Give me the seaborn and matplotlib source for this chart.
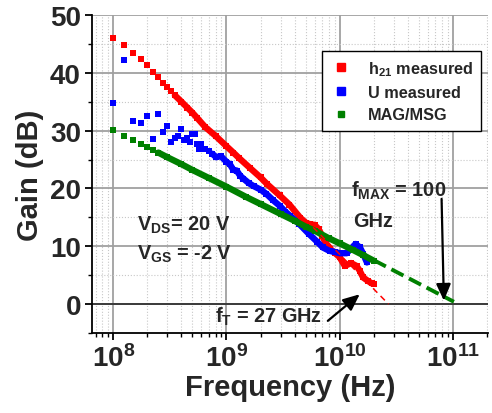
# Gain vs frequency: h21, U and MAG/MSG with extrapolations to fT and fMAX

import numpy as np
import matplotlib
matplotlib.use('Agg')
import matplotlib.pyplot as plt
import seaborn as sns
from matplotlib.ticker import FixedLocator, LogLocator, MultipleLocator, NullFormatter
from matplotlib.lines import Line2D

# h21 measured (GHz, dB)
h21_freq_ghz = [0.100, 0.125, 0.150, 0.175, 0.200, 0.225, 0.250, 0.275, 0.300, 0.325,
                0.350, 0.40, 0.45, 0.50, 0.55, 0.65, 0.80, 1.0, 1.15, 1.3,
                1.6, 2.0, 2.3, 2.95, 3.6, 4.5, 5.0, 5.5, 6.0, 6.5,
                7.0, 7.5, 8.2, 9.0, 10.0, 11.1, 12.6, 14.1, 15.0, 16.1,
                17.8, 19.1, 20.0]
h21_gain_db = [46.1, 44.8, 43.5, 42.4, 41.3, 40.2, 39.2, 38.3, 37.5, 36.8,
               36.1, 35.0, 34.0, 33.1, 32.2, 30.6, 29.1, 27.3, 26.2, 25.2,
               23.6, 21.9, 20.7, 18.8, 17.2, 14.9, 14.1, 13.8, 13.7, 13.0,
               11.8, 10.6, 9.6, 8.9, 8.1, 6.6, 7.1, 6.6, 5.8, 4.6,
               4.0, 3.6, 3.5]

# U measured (GHz, dB)
u_freq_ghz = [0.100, 0.125, 0.150, 0.175, 0.200, 0.225, 0.250, 0.275, 0.300, 0.325,
              0.350, 0.375, 0.400, 0.425, 0.450, 0.475, 0.500, 0.525, 0.550, 0.575,
              0.600, 0.650, 0.700, 0.750, 0.81, 0.89, 1.0, 1.07, 1.15, 1.23,
              1.32, 1.41, 1.58, 1.74, 2.0, 2.24, 2.57, 2.95, 3.31, 3.63,
              4.37, 5.37, 6.31, 7.08, 8.13, 9.12, 10.0, 11.5, 12.6, 13.8,
              15.1, 16.2, 17.4]
u_gain_db = [34.7, 42.2, 31.6, 31.3, 32.5, 28.6, 32.8, 29.8, 30.8, 28.1,
             28.7, 29.1, 30.2, 28.3, 28.8, 28.0, 29.4, 29.5, 27.7, 26.8,
             27.7, 26.8, 26.5, 26.0, 25.4, 25.6, 24.6, 24.2, 23.2, 23.1,
             22.2, 21.7, 20.9, 20.4, 19.8, 19.1, 18.0, 17.0, 16.0, 15.3,
             13.9, 12.1, 10.8, 9.8, 9.2, 9.0, 8.8, 8.8, 9.6, 10.4,
             9.8, 8.6, 7.2]

# MAG/MSG (GHz, dB)
mag_freq_ghz = [0.100, 0.125, 0.150, 0.175, 0.200, 0.225, 0.25, 0.30, 0.40, 0.50,
                0.70, 1.0, 1.5, 2.0, 3.0, 4.0, 5.0, 6.0, 8.0, 10.0,
                13.0, 16.0, 20.0]
mag_gain_db = [30.1, 29.1, 28.4, 27.7, 27.2, 26.7, 26.2, 25.4, 24.2, 23.2,
               21.8, 20.3, 18.5, 17.3, 15.6, 14.4, 13.4, 12.7, 11.4, 10.5,
               9.4, 8.5, 7.5]

# extrapolation lines
h21_fit_freq_ghz = [5.0, 27.0]
h21_fit_gain_db = [14.6, 0.0]
mag_fit_freq_ghz = [20.0, 102.0]
mag_fit_gain_db = [7.6, 0.4]

sns.set_style('ticks')
plt.rcParams['font.family'] = ['Liberation Sans', 'DejaVu Sans']
plt.rcParams['font.weight'] = 'bold'
plt.rcParams['mathtext.fontset'] = 'custom'
for k in ('rm', 'it', 'bf', 'sf'):
    plt.rcParams['mathtext.' + k] = 'Liberation Sans:bold'
plt.rcParams['mathtext.default'] = 'bf'

fig = plt.figure(figsize=(4.92, 4.14), dpi=100)
ax = fig.add_axes([92 / 492, 80 / 414, 396 / 492, 318 / 414])
ax.set_xscale('log')


def draw(freq, gain, band_from, color, z):
    f = np.asarray(freq) * 1e9
    g = np.asarray(gain)
    sns.scatterplot(x=f, y=g, marker='s', s=14, color=color, linewidth=0, ax=ax, zorder=z)
    m = f >= band_from * 1e9
    ax.plot(f[m], g[m], color=color, lw=4.6, zorder=z, solid_joinstyle='round')


draw(h21_freq_ghz, h21_gain_db, 0.35, '#ff0000', 3)
draw(u_freq_ghz, u_gain_db, 0.75, '#0000ff', 4)
draw(mag_freq_ghz, mag_gain_db, 0.25, '#008000', 5)

ax.plot(np.array(h21_fit_freq_ghz) * 1e9, h21_fit_gain_db, color='#ff0000',
        lw=1.1, dashes=(4, 3), zorder=6)
ax.plot(np.array(mag_fit_freq_ghz) * 1e9, mag_fit_gain_db, color='#008000',
        lw=2.8, dashes=(3.5, 1.6), zorder=6)

ax.axhline(0, color='#333333', lw=1.3, zorder=1.5)

ax.set_xlim(10 ** 7.812, 10 ** 11.31)
ax.set_ylim(-5, 50)
ax.xaxis.set_major_locator(FixedLocator([1e8, 1e9, 1e10, 1e11]))
ax.set_xticklabels([r'$10^{8}$', r'$10^{9}$', r'$10^{10}$', r'$10^{11}$'])
ax.xaxis.set_minor_locator(LogLocator(base=10, subs=np.arange(2, 10), numticks=30))
ax.xaxis.set_minor_formatter(NullFormatter())
ax.yaxis.set_major_locator(MultipleLocator(10))
ax.yaxis.set_minor_locator(MultipleLocator(5))

ax.set_axisbelow(True)
ax.grid(which='major', color='#a0a0a0', lw=1.3, ls='-')
ax.grid(which='minor', color='#c8c8c8', lw=0.8, ls=':')

sns.despine(ax=ax)
for s in ('left', 'bottom'):
    ax.spines[s].set_linewidth(1.3)
    ax.spines[s].set_color('black')
ax.tick_params(which='major', direction='out', length=5, width=1.3, labelsize=20, pad=3, color='black')
ax.tick_params(which='minor', direction='out', length=3, width=1.0, color='black')

ax.set_xlabel('Frequency (Hz)', fontsize=21, fontweight='bold', labelpad=1)
ax.set_ylabel('Gain (dB)', fontsize=21, fontweight='bold', labelpad=4)

ax.text(10 ** 8.206, 12.85, r'$V_{DS}$= 20 V', fontsize=14.3, fontweight='bold')
ax.text(10 ** 8.206, 7.8, r'$V_{GS}$ = -2 V', fontsize=14.3, fontweight='bold')
ax.text(10 ** 8.898, -3.06, r'$f_{T}$ = 27 GHz', fontsize=14.3, fontweight='bold', zorder=7)
ax.text(10 ** 10.104, 18.7, r'$f_{MAX}$ = 100', fontsize=14.3, fontweight='bold', zorder=7)
ax.text(10 ** 10.12, 13.5, 'GHz', fontsize=14.3, fontweight='bold', zorder=7)

arrow = dict(arrowstyle='-|>,head_length=0.5,head_width=0.22', color='black', lw=1.6,
             mutation_scale=20, shrinkA=0, shrinkB=0)
ax.annotate('', xy=(10 ** 10.177, 1.7), xytext=(10 ** 9.895, -2.9), arrowprops=arrow, zorder=7)
ax.annotate('', xy=(10 ** 10.92, 0.6), xytext=(10 ** 10.9, 18.2), arrowprops=arrow, zorder=7)

handles = [Line2D([], [], ls='none', marker='s', markersize=6.2, color='#ff0000'),
           Line2D([], [], ls='none', marker='s', markersize=6.2, color='#0000ff'),
           Line2D([], [], ls='none', marker='s', markersize=3.8, color='#008000')]
labels = [r'$h_{21}$ measured', 'U measured', 'MAG/MSG']
leg = ax.legend(handles, labels, loc='upper left', bbox_to_anchor=(0.581, 0.887),
                frameon=True, fancybox=False, edgecolor='black', framealpha=1,
                prop={'size': 11.7, 'weight': 'bold'}, handlelength=1.3, handletextpad=1.0,
                borderpad=0.5, labelspacing=0.45, borderaxespad=0)
leg.get_frame().set_linewidth(1.0)
leg.set_zorder(10)

plt.savefig('out.png', dpi=100)
